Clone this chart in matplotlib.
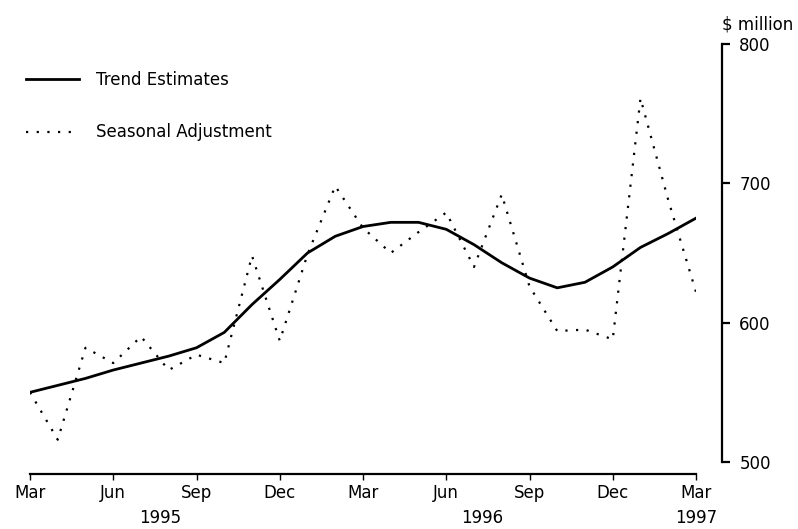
import numpy as np
import matplotlib.pyplot as plt

plt.rcParams['font.family'] = ['DejaVu Sans']

# monthly, Mar 1995 .. Mar 1997
months = ['Mar', 'Apr', 'May', 'Jun', 'Jul', 'Aug', 'Sep', 'Oct', 'Nov', 'Dec', 'Jan', 'Feb',
          'Mar', 'Apr', 'May', 'Jun', 'Jul', 'Aug', 'Sep', 'Oct', 'Nov', 'Dec', 'Jan', 'Feb', 'Mar']
trend = [550, 555, 560, 566, 571, 576, 582, 593, 613, 631, 650, 662,
         669, 672, 672, 667, 656, 643, 632, 625, 629, 640, 654, 664, 675]
seasonal = [550, 516, 582, 571, 590, 566, 577, 571, 648, 587, 649, 698,
            668, 650, 665, 679, 640, 692, 626, 594, 595, 588, 761, 688, 622]
year_labels = ['1995', '1996', '1997']
year_pos = [4.7, 16.3, 24]

x = np.arange(len(months))

fig = plt.figure(figsize=(7.98, 5.29), dpi=100)
ax = fig.add_axes([30 / 798, 67 / 529, 666 / 798, 418 / 529])

ax.plot(x, trend, color='black', lw=2, label='Trend Estimates')
ax.plot(x, seasonal, color='black', lw=1.6, linestyle=(0, (1, 3.8)),
        label='Seasonal Adjustment')

ax.set_xlim(0, 24)
ax.set_ylim(500, 800)

# offsets are in points (1 px = 0.72 pt at 100 dpi)
ax.spines['top'].set_visible(False)
ax.spines['left'].set_visible(False)
ax.spines['right'].set_position(('outward', 18.7))
ax.spines['bottom'].set_position(('outward', 8.6))
ax.spines['right'].set_linewidth(1.6)
ax.spines['bottom'].set_linewidth(1.6)

ax.yaxis.tick_right()
ax.set_yticks([500, 600, 700, 800])
ax.tick_params(axis='y', direction='out', length=5.5, width=1.6, pad=7, labelsize=12)

ticks = x[::3]
ax.set_xticks(ticks)
ax.set_xticklabels([months[i] for i in ticks])
ax.tick_params(axis='x', direction='out', length=4.5, width=1, pad=2.5, labelsize=12)

for lab, pos in zip(year_labels, year_pos):
    ax.text(pos, -0.112, lab, transform=ax.get_xaxis_transform(),
            ha='center', va='top', fontsize=12)

ax.text(1.039, 1.025, r'\$ million', transform=ax.transAxes, ha='left', va='bottom',
        fontsize=12)

leg = ax.legend(loc='upper left', bbox_to_anchor=(-0.006, 0.935), frameon=False,
                fontsize=12, handlelength=3.2, handletextpad=1.0, labelspacing=2.05,
                borderpad=0, borderaxespad=0)

fig.savefig('out.png', dpi=100)
